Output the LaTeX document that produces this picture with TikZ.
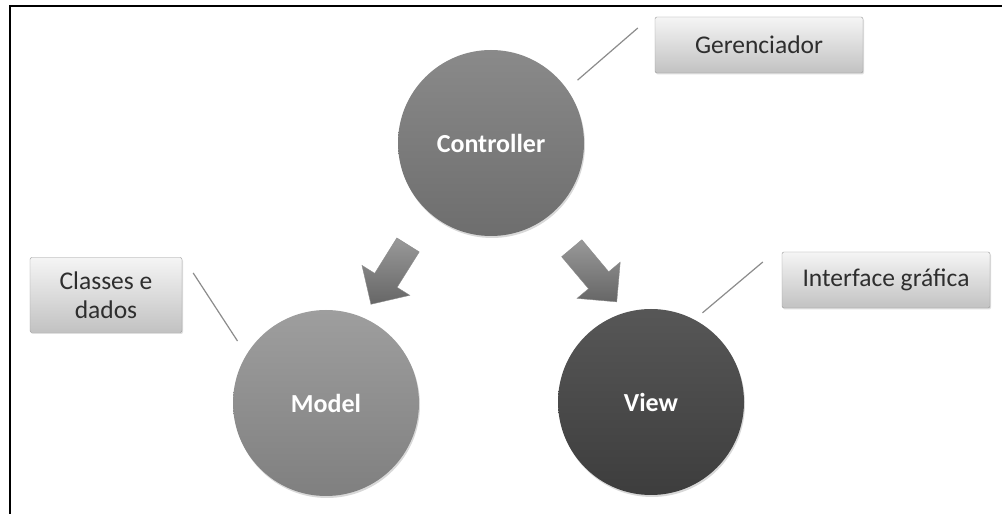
\documentclass[tikz,border=0pt]{standalone}
\usepackage{fontspec}
\setmainfont{Carlito}
\usetikzlibrary{shapes.arrows,shadows,calc}

\begin{document}
\begin{tikzpicture}[x=1pt,y=1pt,
  part/.style={circle,minimum size=186pt,inner sep=0pt,text=white,
    font=\fontsize{26}{30}\selectfont\bfseries,
    drop shadow={opacity=0.3,shadow xshift=1pt,shadow yshift=-2pt}},
  note/.style={draw=black!40,rounded corners=2pt,top color=black!4,bottom color=black!24,
    text=black!82,font=\fontsize{25.5}{29}\selectfont,align=center,inner sep=0pt,
    drop shadow={opacity=0.25,shadow xshift=1pt,shadow yshift=-1.5pt}},
  flow/.style={single arrow,draw=black!45,top color=black!40,bottom color=black!60,
    inner xsep=0pt,inner ysep=13pt,single arrow head extend=15pt,minimum height=70pt},
  link/.style={draw=black!45,line width=1.2pt}]
\useasboundingbox (0,0) rectangle (1002,514);
\fill[white] (0,0) rectangle (1002,514);
\draw[line width=1.5pt] (10,0) -- (10,508) -- (1002,508);

% circles
\node[part,top color=black!46,bottom color=black!57] (ctrl) at (491,371) {Controller};
\node[part,top color=black!38,bottom color=black!50] (model) at (326,111) {Model};
\node[part,top color=black!66,bottom color=black!76] (view) at (651,112) {View};

% block arrows
\node[flow,rotate=-122] (toModel) at (393,245) {};
\node[flow,rotate=-50] (toView) at (590,244) {};

% labels
\node[note,minimum width=208pt,minimum height=56pt] (gerente) at (759,469) {Gerenciador};
\node[note,minimum width=152pt,minimum height=75pt] (classes) at (106,219) {Classes e\\dados};
\node[note,minimum width=208pt,minimum height=56pt] (iface) at (886,234) {Interface gráfica};

\draw[link] ($(ctrl)+(36:107pt)$) -- ($(gerente.west)+(-17pt,17pt)$);
\draw[link] ($(model)+(145:108pt)$) -- ($(classes.east)+(11pt,22pt)$);
\draw[link] ($(view)+(60:103pt)$) -- ($(iface.west)+(-19pt,18pt)$);
\end{tikzpicture}
\end{document}
